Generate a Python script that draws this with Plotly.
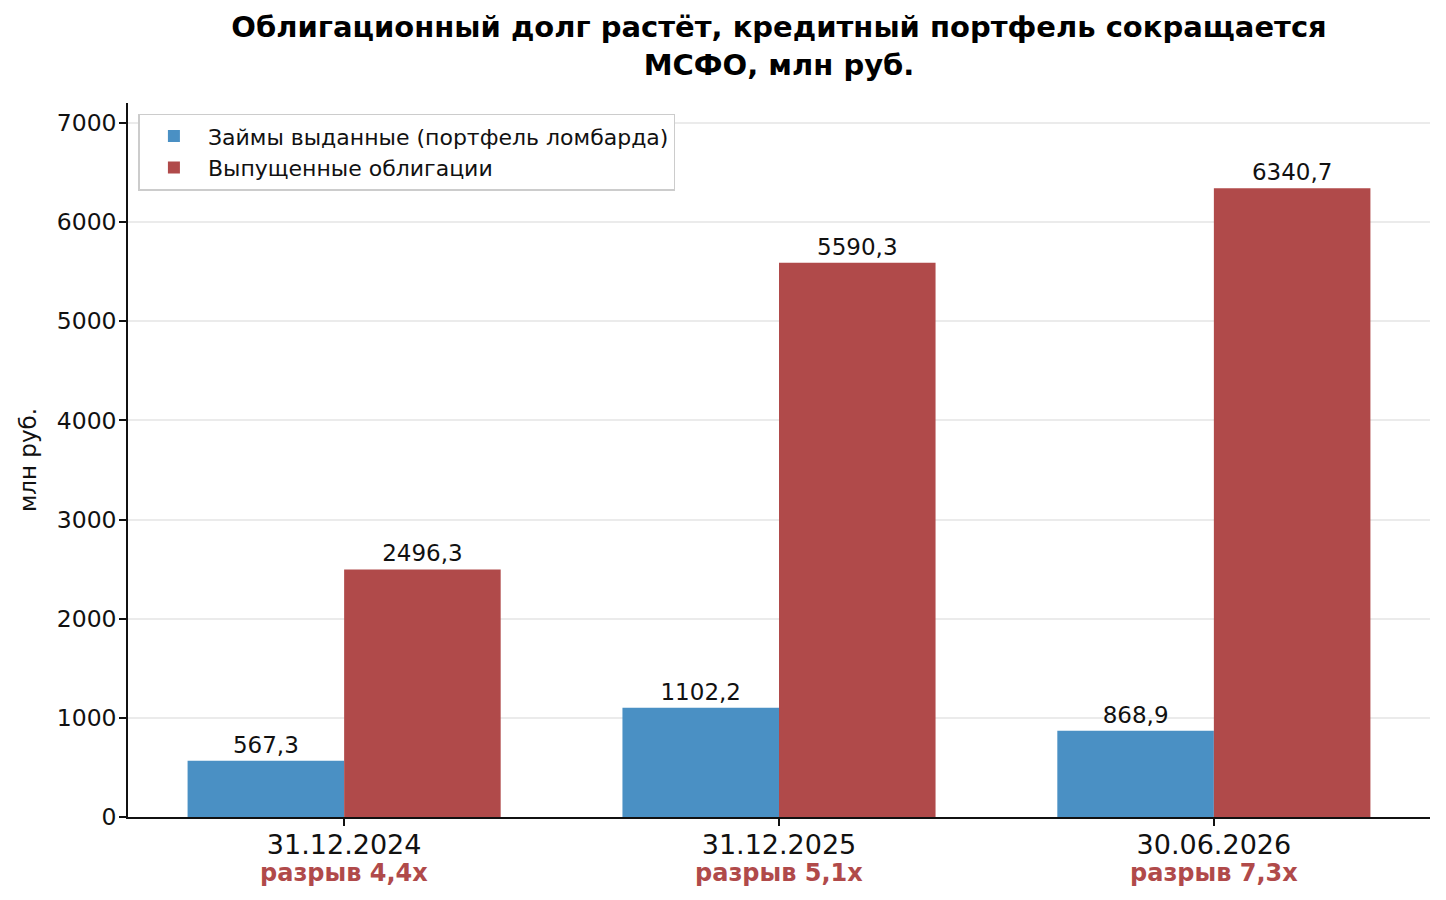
import plotly.graph_objects as go

categories = ["31.12.2024", "31.12.2025", "30.06.2026"]
loans = [567.3, 1102.2, 868.9]
bonds = [2496.3, 5590.3, 6340.7]
gap_labels = ["разрыв 4,4x", "разрыв 5,1x", "разрыв 7,3x"]
series_names = ["Займы выданные (портфель ломбарда)", "Выпущенные облигации"]
title_text = "<b>Облигационный долг растёт, кредитный портфель сокращается<br>МСФО, млн руб.</b>"
y_title = "млн руб."
y_ticks = [0, 1000, 2000, 3000, 4000, 5000, 6000, 7000]

BLUE = "#4A90C4"
RED = "#B04A4A"
FONT = "DejaVu Sans"


def fmt(v):
    return f"{v:.1f}".replace(".", ",")


fig = go.Figure()
fig.add_trace(go.Bar(
    x=categories, y=loans, name=series_names[0], marker_color=BLUE,
    marker_line_width=0,
    text=[fmt(v) for v in loans], textposition="outside", cliponaxis=False,
    textfont=dict(size=23, color="#111", family=FONT),
))
fig.add_trace(go.Bar(
    x=categories, y=bonds, name=series_names[1], marker_color=RED,
    marker_line_width=0,
    text=[fmt(v) for v in bonds], textposition="outside", cliponaxis=False,
    textfont=dict(size=23, color="#111", family=FONT),
))

for cat, lab in zip(categories, gap_labels):
    fig.add_annotation(
        x=cat, y=0, xref="x", yref="y", text=f"<b>{lab}</b>", showarrow=False,
        yanchor="middle", yshift=-56,
        font=dict(size=24, color=RED, family=FONT),
    )

fig.update_layout(
    width=1446, height=900,
    margin=dict(l=128, r=16, t=103, b=83),
    paper_bgcolor="white", plot_bgcolor="white",
    barmode="group", bargap=0.28, bargroupgap=0,
    font=dict(family=FONT, color="#111"),
    title=dict(
        text=title_text, x=0.5, xref="paper", xanchor="center",
        y=1 - 37 / 900, yref="container", yanchor="top",
        font=dict(size=29, family=FONT, color="#000"),
    ),
    legend=dict(
        x=0.008, y=0.985, xanchor="left", yanchor="top",
        bgcolor="white", bordercolor="#cccccc", borderwidth=1.5,
        font=dict(size=22, family=FONT, color="#111"),
        itemwidth=58,
    ),
    showlegend=True,
)

fig.update_xaxes(
    type="category", range=[-0.497, 2.497],
    showline=True, linecolor="#111", linewidth=1.5,
    ticks="outside", ticklen=7, tickwidth=1.5, tickcolor="#111",
    tickfont=dict(size=27, family=FONT, color="#111"),
    ticklabelstandoff=-4,
    showgrid=False, zeroline=False,
)
fig.update_yaxes(
    range=[0, 7200], tickvals=y_ticks,
    showline=True, linecolor="#111", linewidth=1.5,
    ticks="outside", ticklen=7, tickwidth=1.5, tickcolor="#111",
    tickfont=dict(size=23.5, family=FONT, color="#111"),
    ticklabelstandoff=-2,
    showgrid=True, gridcolor="#ebebeb", gridwidth=1.5,
    zeroline=False,
    title=dict(text=y_title, font=dict(size=23, family=FONT, color="#111"), standoff=14),
)

fig.write_html(
    "out.html",
    config={"displayModeBar": False},
    post_script="document.body.style.margin='0';document.body.style.padding='0';",
)
